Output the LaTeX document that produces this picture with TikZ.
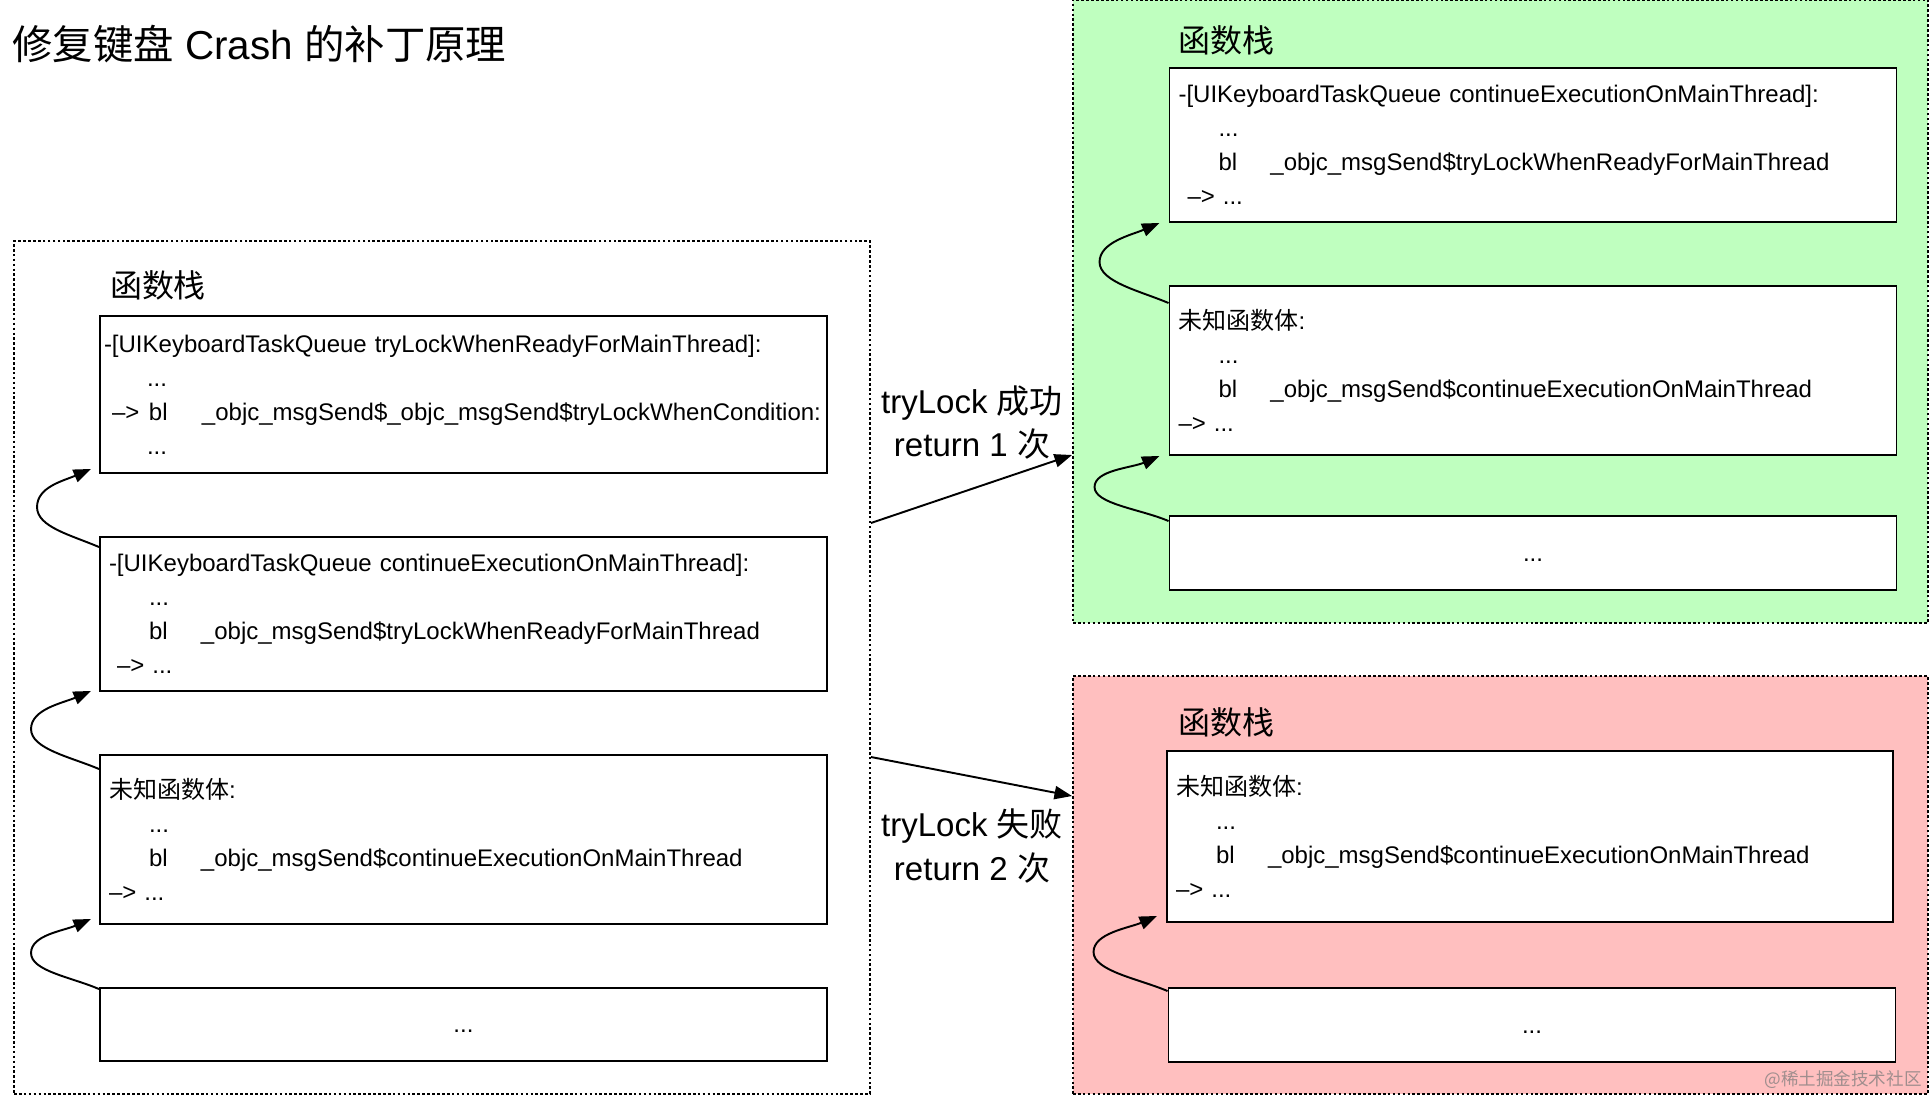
\documentclass[tikz,border=0pt]{standalone}
\usepackage{fontspec}
\setmainfont{Liberation Sans}
\newfontfamily\cjk{Noto Sans CJK SC}
\usepackage{tikz}
\usetikzlibrary{arrows.meta,calc,positioning}
\definecolor{okfill}{HTML}{BFFFBF}
\definecolor{failfill}{HTML}{FFBFBF}
\definecolor{markgray}{HTML}{A08E8E}
\newlength\pxu
\setlength\pxu{0.02cm}
\newcommand{\ind}{\hspace*{40\pxu}}
\newcommand{\blcall}[1]{\makebox[52\pxu][l]{bl}\_objc\_msgSend\$#1}
\newcommand{\lowdots}{\raisebox{-8\pxu}[0pt][0pt]{...}}

\begin{document}
\begin{tikzpicture}[x=0.02cm, y=-0.02cm,
  frame/.style={draw, line width=1.1pt, dash pattern=on 1.5pt off 1.3pt, inner sep=0pt},
  stackbox/.style={draw, fill=white, line width=1.1pt, align=left, inner xsep=9\pxu,
                   inner ysep=0pt, text width=709\pxu, font=\fontsize{13.66}{19.35}\selectfont},
  heading/.style={font=\cjk\fontsize{18.2}{22}\selectfont, inner sep=0pt},
  note/.style={align=center, font=\fontsize{18.8}{24.5}\selectfont},
  flow/.style={-{Triangle[length=10pt,width=7.5pt]}, line width=1.1pt}
]
\useasboundingbox (0,0) rectangle (1930,1098);

\node[frame, minimum width=856\pxu, minimum height=853\pxu] (stackL) at (442,667.5) {};
\node[frame, fill=okfill, minimum width=855\pxu, minimum height=623\pxu] (stackOk) at (1500.5,311.5) {};
\node[frame, fill=failfill, minimum width=855\pxu, minimum height=418\pxu] (stackFail) at (1500.5,885) {};

\node[font=\fontsize{23}{28}\selectfont, anchor=west, inner sep=0pt] (title) at (12,44)
  {{\cjk 修复键盘} Crash {\cjk 的补丁原理}};

\node[heading] (headL) at (158,285) {函数栈};
\node[heading] (headOk) at (1226,40) {函数栈};
\node[heading] (headFail) at (1226,722) {函数栈};

\node[stackbox, inner xsep=4\pxu, text width=719\pxu, minimum height=157\pxu] (L1) at (463.5,394.5)
  {-[UIKeyboardTaskQueue~tryLockWhenReadyForMainThread]:\\
   \hspace*{43\pxu}...\\
   \hspace*{8\pxu}\makebox[37\pxu][l]{\textendash>}\makebox[53\pxu][l]{bl}\_objc\_msgSend\$\_objc\_msgSend\$tryLockWhenCondition:\\
   \hspace*{43\pxu}...};
\node[stackbox, minimum height=154\pxu] (L2) at (463.5,614)
  {-[UIKeyboardTaskQueue~continueExecutionOnMainThread]:\\
   \ind...\\
   \ind\blcall{tryLockWhenReadyForMainThread}\\
   \hspace*{8\pxu}\textendash>~...};
\node[stackbox, minimum height=169\pxu] (L3) at (463.5,839.5)
  {{\cjk 未知函数体}:\\
   \ind...\\
   \ind\blcall{continueExecutionOnMainThread}\\
   \textendash>~...};
\node[stackbox, align=center, minimum height=73\pxu] (L4) at (463.5,1024.5) {\lowdots};

\node[stackbox, minimum height=154\pxu] (G1) at (1533,145)
  {-[UIKeyboardTaskQueue~continueExecutionOnMainThread]:\\
   \ind...\\
   \ind\blcall{tryLockWhenReadyForMainThread}\\
   \hspace*{9\pxu}\textendash>~...};
\node[stackbox, minimum height=169\pxu] (G2) at (1533,370.5)
  {{\cjk 未知函数体}:\\
   \ind...\\
   \ind\blcall{continueExecutionOnMainThread}\\
   \textendash>~...};
\node[stackbox, align=center, minimum height=74\pxu] (G3) at (1533,553) {\lowdots};

\node[stackbox, text width=708\pxu, minimum height=171\pxu] (R1) at (1530,836.5)
  {{\cjk 未知函数体}:\\
   \ind...\\
   \ind\blcall{continueExecutionOnMainThread}\\
   \textendash>~...};
\node[stackbox, align=center, minimum height=74\pxu] (R2) at (1532,1025) {\lowdots};

\draw[flow] ($(L2.north west)+(0,11)$) .. controls +(-28,-12) and +(0,20) .. ($(L2.north west)+(-62,-29)$)
  .. controls +(0,-20) and +(-28,12) .. ($(L1.south west)+(-8,-5)$);
\draw[flow] ($(L3.north west)+(0,15)$) .. controls +(-28,-12) and +(0,20) .. ($(L3.north west)+(-68,-25)$)
  .. controls +(0,-20) and +(-28,12) .. ($(L2.south west)+(-8,-1)$);
\draw[flow] ($(L4.north west)+(0,2)$) .. controls +(-28,-12) and +(0,18) .. ($(L4.north west)+(-68,-34)$)
  .. controls +(0,-18) and +(-28,12) .. ($(L3.south west)+(-8,-6)$);
\draw[flow] ($(G2.north west)+(0,18)$) .. controls +(-28,-12) and +(0,20) .. ($(G2.north west)+(-69,-23)$)
  .. controls +(0,-20) and +(-28,12) .. ($(G1.south west)+(-9,0)$);
\draw[flow] ($(G3.north west)+(0,6)$) .. controls +(-28,-12) and +(0,17) .. ($(G3.north west)+(-74,-28)$)
  .. controls +(0,-17) and +(-28,12) .. ($(G2.south west)+(-9,0)$);
\draw[flow] ($(R2.north west)+(0,4)$) .. controls +(-28,-12) and +(0,19) .. ($(R2.north west)+(-74,-35)$)
  .. controls +(0,-19) and +(-28,12) .. ($(R1.south west)+(-9,-7)$);

\draw[flow] ($(stackL.east)+(0,-144.5)$) -- ($(stackOk.west)+(0,143.5)$);
\draw[flow] ($(stackL.east)+(0,89.5)$) -- ($(stackFail.west)+(0,-89)$);

\node[note] (okNote) at (972,423) {tryLock {\cjk 成功}\\return 1 {\cjk 次}};
\node[note] (failNote) at (972,846) {tryLock {\cjk 失败}\\return 2 {\cjk 次}};

\node[font=\cjk\fontsize{10}{12}\selectfont, text=markgray, anchor=east, inner sep=0pt] (mark) at (1922,1080) {@稀土掘金技术社区};
\end{tikzpicture}
\end{document}
